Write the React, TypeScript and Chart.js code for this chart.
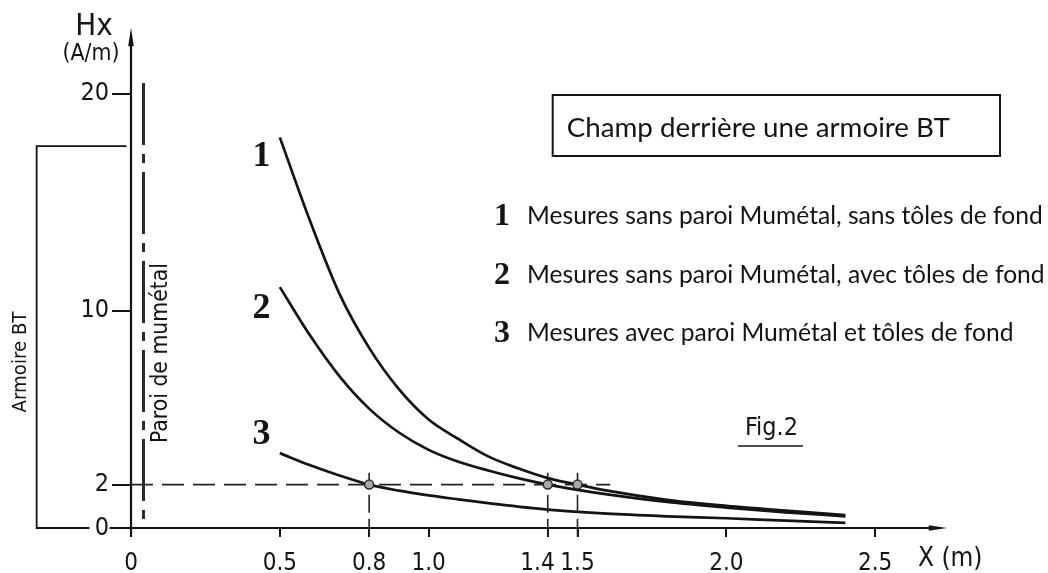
import React, { useEffect, useRef } from "react";
import { Chart, registerables } from "chart.js";

Chart.register(...registerables);

// ---- data ----
const xTickValues = [0, 0.5, 0.8, 1.0, 1.4, 1.5, 2.0, 2.5];
const xTickLabels = ["0", "0.5", "0.8", "1.0", "1.4   ", "1.5", "2.0", "2.5"];
const yTickValues = [0, 2, 10, 20];
const yTickLabels = ["0", "2", "10", "20"];

const distance12 = [0.5, 0.6, 0.7, 0.8, 0.9, 1.0, 1.1, 1.2, 1.3, 1.4, 1.5, 1.6, 1.8, 2.0, 2.2, 2.4];
const field1 = [18.0, 14.2, 10.8, 8.3, 6.4, 5.0, 4.1, 3.3, 2.75, 2.3, 2.0, 1.72, 1.3, 1.02, 0.8, 0.6];
const field2 = [11.1, 8.9, 7.0, 5.5, 4.4, 3.6, 3.05, 2.65, 2.3, 2.0, 1.76, 1.55, 1.2, 0.94, 0.72, 0.54];
const distance3 = [0.5, 0.6, 0.7, 0.8, 0.9, 1.0, 1.1, 1.2, 1.4, 1.6, 1.8, 2.0, 2.2, 2.4];
const field3 = [3.45, 2.9, 2.42, 2.0, 1.72, 1.5, 1.32, 1.15, 0.85, 0.66, 0.54, 0.45, 0.34, 0.24];

const thresholdField = 2;
const thresholdX = [0.8, 1.4, 1.5];
const thresholdLineX = [0, 1.61];
const thresholdDropY = [-0.4, 2.55];

const paroiX = 0.042;
const paroiY = [20.5, 0];

const armoireLeftX = -0.317;
const armoireTopRightX = -0.015;
const armoireBottomRightX = -0.14;
const armoireTopY = 17.6;

const curveLabels = ["1", "2", "3"];
const curveLabelX = 0.438;
const curveLabelY = [17.1, 10.1, 4.3];

const titleText = "Champ derrière une armoire BT";
const legendNumbers = ["1", "2", "3"];
const legendTexts = [
  "Mesures sans paroi Mumétal, sans tôles de fond",
  "Mesures sans paroi Mumétal, avec tôles de fond",
  "Mesures avec paroi Mumétal et tôles de fond",
];
const yTitle = "Hx";
const yUnit = "(A/m)";
const xTitle = "X (m)";
const figLabel = "Fig.2";
const armoireLabel = "Armoire BT";
const paroiLabel = "Paroi de mumétal";

// ---- styling ----
const NARROW = '"Liberation Sans Narrow", "DejaVu Sans Condensed", "Liberation Sans", sans-serif';
const ROUND = 'Lato, "Noto Sans", sans-serif';
const SERIF = '"Liberation Serif", "DejaVu Serif", serif';
const INK = "#141414";

function fitFont(ctx: CanvasRenderingContext2D, text: string, width: number, family: string, weight = "normal") {
  ctx.font = `${weight} 100px ${family}`;
  const w = ctx.measureText(text).width;
  const size = (100 * width) / w;
  return `${weight} ${size.toFixed(2)}px ${family}`;
}

const decoPlugin = {
  id: "deco",
  afterDraw(chart: any) {
    const { ctx } = chart;
    const x = chart.scales.x;
    const y = chart.scales.y;
    const px = (v: number) => x.getPixelForValue(v);
    const py = (v: number) => y.getPixelForValue(v);
    ctx.save();
    ctx.strokeStyle = INK;
    ctx.fillStyle = INK;
    ctx.lineCap = "butt";

    // axes
    const x0 = px(0);
    const y0 = py(0);
    ctx.lineWidth = 2.2;
    ctx.beginPath();
    ctx.moveTo(x0, py(-0.38));
    ctx.lineTo(x0, py(22.4));
    ctx.stroke();
    ctx.beginPath();
    ctx.moveTo(x0, py(23.05));
    ctx.lineTo(x0 - 2.8, py(22.2));
    ctx.lineTo(x0 + 2.8, py(22.2));
    ctx.closePath();
    ctx.fill();

    ctx.beginPath();
    ctx.moveTo(px(-0.072), y0);
    ctx.lineTo(px(2.69), y0);
    ctx.stroke();
    ctx.beginPath();
    ctx.moveTo(px(2.742), y0);
    ctx.lineTo(px(2.68), y0 - 2.8);
    ctx.lineTo(px(2.68), y0 + 2.8);
    ctx.closePath();
    ctx.fill();

    // armoire box
    ctx.lineWidth = 1.8;
    ctx.beginPath();
    ctx.moveTo(px(armoireTopRightX), py(armoireTopY));
    ctx.lineTo(px(armoireLeftX), py(armoireTopY));
    ctx.lineTo(px(armoireLeftX), y0);
    ctx.lineTo(px(armoireBottomRightX), y0);
    ctx.stroke();

    // axis titles
    ctx.textBaseline = "alphabetic";
    ctx.textAlign = "center";
    ctx.font = `31px ${NARROW}`;
    ctx.fillText(yTitle, 94, 35);
    ctx.font = fitFont(ctx, yUnit, 57, NARROW);
    ctx.fillText(yUnit, 91, 60);
    ctx.textAlign = "left";
    ctx.font = `26px ${NARROW}`;
    ctx.fillText(xTitle, 918, 566);

    // rotated labels
    ctx.save();
    ctx.translate(21, 362);
    ctx.rotate(-Math.PI / 2);
    ctx.textAlign = "center";
    ctx.textBaseline = "middle";
    ctx.font = fitFont(ctx, armoireLabel, 101, NARROW);
    ctx.fillText(armoireLabel, 0, 0);
    ctx.restore();

    ctx.save();
    ctx.translate(161, 353);
    ctx.rotate(-Math.PI / 2);
    ctx.textAlign = "center";
    ctx.textBaseline = "middle";
    ctx.font = fitFont(ctx, paroiLabel, 180, NARROW);
    ctx.fillText(paroiLabel, 0, 0);
    ctx.restore();

    // curve labels
    ctx.textAlign = "center";
    ctx.textBaseline = "middle";
    ctx.font = `bold 36px ${SERIF}`;
    curveLabels.forEach((t, i) => ctx.fillText(t, px(curveLabelX), py(curveLabelY[i])));

    // title box
    ctx.textAlign = "right";
    ctx.textBaseline = "alphabetic";
    ctx.font = fitFont(ctx, "derrière une armoire BT", 290, ROUND);
    const tw = ctx.measureText(titleText).width;
    ctx.fillText(titleText, 950, 137);
    ctx.lineWidth = 2;
    ctx.strokeRect(950 - tw - 14, 95, 1000 - (950 - tw - 14), 61);

    // legend
    const lf = fitFont(ctx, legendTexts[0], 516, ROUND);
    const baselines = [224, 283, 341];
    legendTexts.forEach((t, i) => {
      ctx.textAlign = "center";
      ctx.font = `bold 32px ${SERIF}`;
      ctx.fillText(legendNumbers[i], 502, baselines[i] + 1);
      ctx.textAlign = "left";
      ctx.font = lf;
      ctx.fillText(t, 527, baselines[i]);
    });

    // fig label
    ctx.textAlign = "left";
    ctx.font = fitFont(ctx, figLabel, 53, NARROW);
    ctx.fillText(figLabel, 745, 435);
    ctx.lineWidth = 1.6;
    ctx.beginPath();
    ctx.moveTo(738, 446);
    ctx.lineTo(803, 446);
    ctx.stroke();

    ctx.restore();
  },
};

export default function App() {
  const ref = useRef<HTMLCanvasElement | null>(null);

  useEffect(() => {
    document.body.style.margin = "0";
    const canvas = ref.current;
    if (!canvas) return;

    const curve = (xs: number[], ys: number[]) => ({
      data: xs.map((v, i) => ({ x: v, y: ys[i] })),
      borderColor: INK,
      borderWidth: 2.7,
      pointRadius: 0,
      cubicInterpolationMode: "monotone" as const,
      fill: false,
    });

    const datasets: any[] = [
      {
        data: thresholdX.map((v) => ({ x: v, y: thresholdField })),
        showLine: false,
        pointRadius: 4.5,
        pointBackgroundColor: "#a8a8a8",
        pointBorderColor: "#2a2a2a",
        pointBorderWidth: 1.5,
        order: -1,
      },
      curve(distance12, field1),
      curve(distance12, field2),
      curve(distance3, field3),
      {
        data: thresholdLineX.map((v) => ({ x: v, y: thresholdField })),
        borderColor: "#222",
        borderWidth: 1.6,
        borderDash: [22, 9],
        pointRadius: 0,
        clip: false,
      },
      ...thresholdX.map((v) => ({
        data: thresholdDropY.map((w) => ({ x: v, y: w })),
        borderColor: "#222",
        borderWidth: 1.6,
        borderDash: [18, 6],
        pointRadius: 0,
        clip: false,
      })),
      {
        data: paroiY.map((w) => ({ x: paroiX, y: w })),
        borderColor: "#2b2b2b",
        borderWidth: 3,
        borderDash: [62, 9, 9, 9],
        pointRadius: 0,
        clip: false,
      },
    ];

    const chart = new Chart(canvas, {
      type: "line",
      data: { datasets },
      plugins: [decoPlugin],
      options: {
        animation: false,
        responsive: false,
        events: [],
        layout: { padding: { top: 12, right: 24, left: 0, bottom: 0 } },
        plugins: { legend: { display: false }, tooltip: { enabled: false } },
        scales: {
          x: {
            type: "linear",
            min: 0,
            max: 3.0,
            border: { display: false },
            grid: { drawOnChartArea: false, drawTicks: true, tickLength: 9, color: INK, lineWidth: 2 },
            afterBuildTicks: (s: any) => {
              s.ticks = xTickValues.map((v) => ({ value: v }));
            },
            afterFit: (s: any) => {
              s.height = 45;
            },
            ticks: {
              autoSkip: false,
              maxRotation: 0,
              color: INK,
              padding: 12,
              font: { family: NARROW, size: 24 },
              callback: (v: any) => {
                const i = xTickValues.indexOf(Number(v));
                return i >= 0 ? xTickLabels[i] : "";
              },
            },
          },
          y: {
            type: "linear",
            min: 0,
            max: 23.5,
            border: { display: false },
            grid: { drawOnChartArea: false, drawTicks: true, tickLength: 19, color: INK, lineWidth: 2 },
            afterBuildTicks: (s: any) => {
              s.ticks = yTickValues.map((v) => ({ value: v }));
            },
            afterFit: (s: any) => {
              s.width = 131;
            },
            ticks: {
              autoSkip: false,
              color: INK,
              padding: 3,
              font: { family: NARROW, size: 25 },
              callback: (v: any) => {
                const i = yTickValues.indexOf(Number(v));
                return i >= 0 ? yTickLabels[i] : "";
              },
            },
          },
        },
      },
    });
    return () => chart.destroy();
  }, []);

  return (
    <div style={{ width: 1048, height: 573, background: "#fff" }}>
      <canvas ref={ref} width={1048} height={573} style={{ display: "block" }} />
    </div>
  );
}
